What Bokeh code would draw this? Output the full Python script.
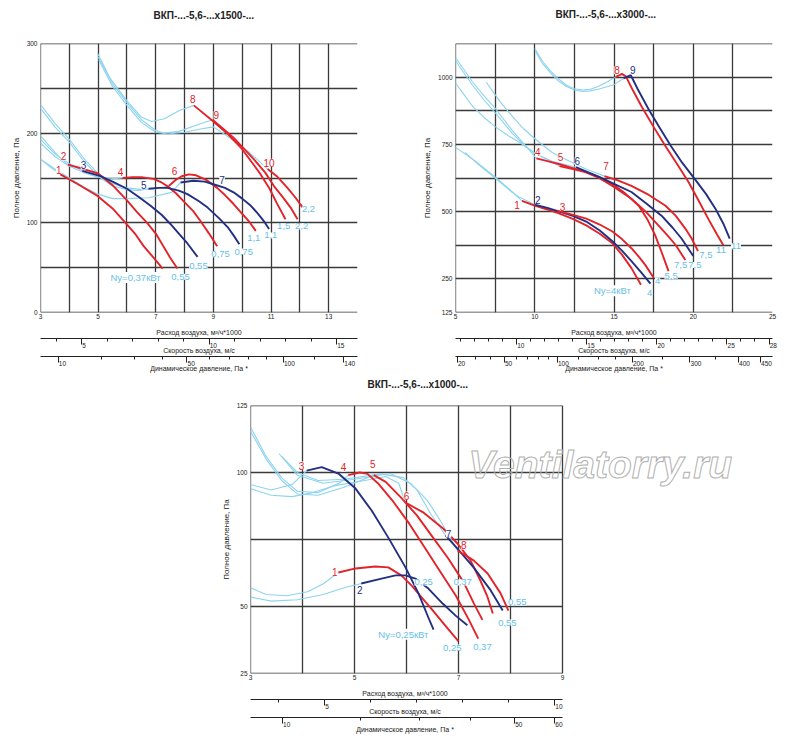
import math

from bokeh.core.properties import value
from bokeh.embed import file_html
from bokeh.layouts import column, row
from bokeh.models import (ColumnDataSource, CustomJSTickFormatter, FixedTicker,
                          Label, LabelSet, LinearAxis, Range1d, Title)
from bokeh.plotting import figure
from bokeh.resources import INLINE

RED = "#e2232a"
NAVY = "#232f82"
SKY = "#8dd3ef"
SKY_TEXT = "#66bfe7"
GRID = "#3a3a3a"
INK = "#222222"
FONT = "Liberation Sans"

K = 0.885  # air flow, 1000 m3/h, that gives 1 m/s of air velocity

# ---------------- ВКП-...х1500 ----------------
# working parts (flow 1000 m3/h, total pressure Pa), curves 1..10
work_1500 = [
    [(3.69, 154), (4.3, 143), (4.98, 130), (5.5, 116), (5.95, 100), (6.3, 87), (6.58, 74), (6.9, 62), (7.24, 49)],
    [(3.95, 165), (4.5, 160), (5.0, 155), (5.5, 142), (6.0, 125), (6.35, 112), (6.7, 100), (7.0, 88), (7.3, 72), (7.5, 61), (7.75, 49)],
    [(4.45, 158), (5.08, 152), (5.5, 146), (6.0, 138), (6.4, 129), (6.82, 119), (7.2, 109), (7.5, 99), (7.8, 88), (8.1, 77), (8.45, 62)],
    [(5.85, 150), (6.2, 151), (6.5, 151), (6.92, 149), (7.2, 145), (7.4, 141), (7.7, 133), (7.97, 124), (8.3, 113), (8.55, 102), (8.85, 88), (9.13, 74)],
    [(6.75, 138), (7.1, 139), (7.4, 139), (7.8, 136), (8.1, 132), (8.5, 124), (8.8, 117), (9.2, 105), (9.5, 95), (9.7, 86), (9.9, 76)],
    [(7.45, 141), (7.7, 148), (7.9, 152), (8.15, 154), (8.4, 153), (8.75, 148), (9.13, 139), (9.4, 131), (9.7, 121), (10.0, 110), (10.25, 101), (10.47, 91)],
    [(7.86, 145), (8.3, 147), (8.7, 146), (9.0, 143), (9.4, 139), (9.7, 134), (10.0, 127), (10.3, 119), (10.55, 110), (10.75, 102), (10.93, 93)],
    [(8.32, 231), (9.0, 213), (9.5, 199), (9.95, 184), (10.3, 169), (10.64, 154), (10.95, 138), (11.2, 122), (11.5, 104)],
    [(8.97, 215), (9.7, 195), (10.4, 171), (10.8, 156), (11.1, 141), (11.4, 129), (11.68, 117), (11.92, 104)],
    [(10.88, 160), (11.2, 152), (11.57, 139), (11.85, 128), (12.1, 117)],
]
work_color_1500 = "rrnrnrnrrr"
# unstable (light blue) parts
tail_1500 = [
    [(3.0, 171), (3.35, 162), (3.69, 154)],
    [(3.0, 197), (3.3, 186), (3.6, 175), (3.95, 165)],
    [(3.0, 193), (3.5, 177), (4.0, 166), (4.45, 158)],
    [(3.0, 189), (3.5, 174), (4.0, 163), (4.5, 156), (5.0, 151), (5.4, 149), (5.85, 150)],
    [(3.0, 228), (3.5, 207), (4.0, 190), (4.5, 169), (5.0, 152), (5.5, 141), (6.0, 137), (6.4, 136), (6.75, 138)],
    [(3.0, 232), (3.5, 211), (4.0, 193), (4.5, 172), (5.0, 155), (5.5, 144), (6.0, 139), (6.5, 137), (7.0, 138), (7.45, 141)],
    [(3.0, 171), (3.5, 160), (4.0, 150), (4.5, 140), (5.0, 132), (5.5, 127), (6.0, 127), (6.75, 128), (7.55, 134), (7.86, 145)],
    [(4.98, 289), (5.4, 262), (6.0, 236), (6.5, 218), (6.85, 213), (7.3, 216), (7.8, 225), (8.32, 231)],
    [(5.0, 285), (5.5, 255), (6.0, 234), (6.5, 215), (7.0, 203), (7.3, 200), (7.8, 202), (8.5, 210), (8.97, 215)],
    [(5.02, 282), (5.5, 252), (6.0, 231), (6.5, 212), (7.0, 201), (7.4, 199), (8.0, 201), (8.6, 205), (9.0, 207), (9.6, 194), (10.2, 180), (10.88, 160)],
]
num_1500 = ["1", "2", "3", "4", "5", "6", "7", "8", "9", "10"]
num_x_1500 = [3.63, 3.8, 4.49, 5.78, 6.58, 7.65, 9.3, 8.28, 9.1, 10.93]
num_y_1500 = [159, 174, 164, 157, 142, 158, 148, 238, 220, 167]
kw_1500 = ["Ny=0,37кВт", "0,55", "0,55", "0,75", "0,75", "1,1", "1,1", "1,5", "2,2", "2,2"]
kw_x_1500 = [6.3, 7.86, 8.48, 9.25, 10.05, 10.4, 10.99, 11.44, 12.06, 12.3]
kw_y_1500 = [39, 40, 52, 65, 68, 83, 86, 96, 96, 115]

# ---------------- ВКП-...х3000 ----------------
work_3000 = [
    [(9.19, 540), (10.0, 522), (10.8, 508), (11.56, 493), (12.4, 473), (13.25, 449), (14.1, 418), (14.9, 382), (15.5, 340), (16.1, 290), (16.7, 228)],
    [(10.0, 526), (10.8, 514), (11.56, 500), (12.4, 484), (13.25, 463), (14.1, 430), (14.9, 390), (15.5, 355), (16.1, 316), (16.7, 275), (17.3, 232)],
    [(11.4, 504), (12.3, 490), (13.25, 474), (14.1, 452), (14.9, 426), (15.5, 398), (16.1, 364), (16.6, 330), (16.97, 302), (17.5, 254)],
    [(10.1, 698), (10.8, 688), (11.56, 676), (12.4, 662), (13.25, 647), (14.1, 627), (14.9, 603), (15.7, 568), (16.56, 522), (17.1, 472), (17.6, 412), (18.0, 350), (18.44, 279)],
    [(11.56, 669), (12.4, 658), (13.19, 647), (14.06, 625), (15.0, 592), (16.1, 548), (17.0, 500), (17.8, 449), (18.4, 410), (18.9, 375), (19.5, 320)],
    [(12.6, 665), (13.3, 648), (14.06, 629), (15.0, 603), (16.1, 573), (17.0, 532), (18.0, 485), (18.7, 440), (19.25, 401), (20.0, 335)],
    [(14.4, 632), (15.2, 617), (16.1, 596), (17.2, 562), (18.25, 522), (18.9, 484), (19.5, 437), (19.9, 400), (20.3, 353)],
    [(15.1, 1000), (15.5, 1012), (15.75, 1003), (16.2, 950), (16.75, 890), (17.5, 815), (18.25, 743), (19.0, 675), (19.7, 610), (20.3, 545), (20.94, 474), (21.5, 415), (21.9, 375)],
    [(15.6, 995), (16.06, 1007), (16.5, 955), (17.2, 879), (17.9, 810), (18.6, 743), (19.3, 682), (20.1, 621), (20.8, 566), (21.4, 511), (21.9, 455), (22.3, 400)],
]
work_color_3000 = "rnrrrnrrn"
tail_3000 = [
    [(5.0, 739), (6.2, 690), (7.5, 629), (8.5, 578), (9.19, 540)],
    [(5.6, 720), (6.5, 672), (7.5, 625), (8.5, 575), (9.06, 553), (10.0, 526)],
    [(5.0, 1073), (5.5, 1030), (6.1, 980), (6.8, 930), (7.5, 885), (8.6, 800), (9.5, 740), (10.1, 698)],
    [(5.0, 1062), (5.5, 1018), (6.1, 968), (6.8, 915), (7.5, 868), (8.6, 790), (9.3, 748), (10.06, 715), (11.0, 688), (11.56, 669)],
    [(5.0, 978), (5.5, 938), (6.1, 890), (6.8, 850), (7.5, 816), (8.3, 783), (9.06, 757), (10.06, 713), (11.1, 687), (12.6, 665)],
    [(6.94, 981), (7.8, 910), (8.6, 853), (9.3, 808), (10.06, 768), (11.1, 720), (12.2, 687), (13.3, 657), (14.4, 632)],
    [(10.0, 1106), (10.5, 1058), (11.0, 1022), (11.5, 993), (12.0, 970), (12.5, 957), (13.0, 952), (13.5, 955), (14.0, 965), (14.5, 980), (15.1, 1000)],
    [(10.05, 1094), (10.5, 1050), (11.0, 1015), (11.5, 985), (12.0, 965), (12.5, 952), (13.0, 947), (13.5, 949), (14.0, 955), (14.5, 963), (15.0, 972), (15.6, 995)],
]
num_3000 = ["1", "2", "3", "4", "5", "6", "7", "8", "9"]
num_x_3000 = [8.88, 10.19, 11.75, 10.19, 11.63, 12.69, 14.5, 15.19, 16.19]
num_y_3000 = [526, 544, 518, 720, 702, 687, 669, 1026, 1026]
num_color_3000 = "rnrrrnrrn"
kw_3000 = ["Ny=4кВт", "4", "4", "5,5", "7,5", "7,5", "7,5", "11", "11"]
kw_x_3000 = [14.9, 17.25, 17.75, 18.6, 19.2, 20.1, 20.8, 21.75, 22.7]
kw_y_3000 = [206, 199, 243, 261, 302, 302, 338, 357, 371]

# ---------------- ВКП-...х1000 ----------------
work_1000 = [
    [(4.69, 62.7), (5.02, 64.2), (5.4, 64.9), (5.65, 64.6), (5.9, 61.6), (6.1, 57.8), (6.29, 53.4), (6.46, 49.6), (6.71, 43.7), (7.0, 37)],
    [(5.13, 58.6), (5.52, 60.4), (5.79, 61.6), (5.98, 61.6), (6.17, 60.4), (6.42, 56.7), (6.7, 51), (6.95, 46.5), (7.17, 43)],
    [(4.08, 100.7), (4.37, 102), (4.69, 99.6), (5.02, 94), (5.33, 85.8), (5.65, 75.7), (5.98, 64.6), (6.23, 54.9), (6.42, 45.9), (6.52, 41.4)],
    [(4.88, 99), (5.1, 100), (5.25, 99.5), (5.45, 96), (5.75, 89), (6.05, 81), (6.35, 72), (6.65, 63), (6.95, 54), (7.2, 45), (7.38, 38)],
    [(5.37, 99), (5.6, 96.5), (5.9, 90.5), (6.2, 84), (6.5, 76), (6.8, 68), (7.1, 59), (7.3, 51), (7.46, 45)],
    [(5.98, 88.8), (6.33, 85), (6.71, 79), (6.98, 73.5), (7.23, 67.2), (7.42, 59.7), (7.55, 54), (7.66, 47.4)],
    [(6.75, 76.5), (6.98, 71.6), (7.29, 64.6), (7.62, 56), (7.85, 48.5)],
    [(6.98, 70.9), (7.29, 67.2), (7.56, 62.3), (7.81, 54.9), (7.96, 48.5)],
]
work_color_1000 = "rnnrrrnr"
tail_1000 = [
    [(3.0, 57), (3.3, 54.5), (3.7, 54), (4.1, 55.5), (4.4, 58.5), (4.69, 62.7)],
    [(3.0, 53.5), (3.4, 52), (3.9, 52.5), (4.4, 54.5), (4.8, 57), (5.13, 58.6)],
    [(3.0, 95.5), (3.4, 93.5), (3.8, 95.5), (4.08, 100.7)],
    [(3.0, 117), (3.3, 106), (3.6, 98), (3.9, 93), (4.3, 92.5), (4.7, 96), (4.88, 99)],
    [(3.0, 115.5), (3.3, 105), (3.6, 97), (3.9, 92), (4.3, 91.5), (4.8, 94.5), (5.37, 99)],
    [(3.0, 94), (3.4, 91.5), (3.8, 91), (4.2, 92.5), (4.6, 95), (5.2, 97), (5.6, 98.5), (5.85, 96), (5.98, 88.8)],
    [(3.6, 106), (3.9, 100), (4.3, 97), (4.8, 97.5), (5.5, 99.5), (5.94, 98.1), (6.21, 93.3), (6.46, 84.7), (6.75, 76.5)],
    [(3.55, 107), (3.9, 99), (4.4, 96), (5.0, 97.5), (5.69, 99.6), (6.08, 95.9), (6.4, 89.6), (6.65, 82.1), (6.98, 70.9)],
]
num_1000 = ["1", "2", "3", "4", "5", "6", "7", "8"]
num_x_1000 = [4.62, 5.1, 3.98, 4.79, 5.35, 6.0, 6.81, 7.1]
num_y_1000 = [63, 56.3, 102.6, 101.9, 103, 91.4, 77.2, 72.8]
num_color_1000 = "rnrrrrnr"
kw_1000 = ["0,25", "0,37", "0,55", "0,55", "Ny=0,25кВт", "0,25", "0,37"]
kw_x_1000 = [6.33, 7.08, 8.13, 7.94, 5.94, 6.88, 7.46]
kw_y_1000 = [59, 59, 51.5, 44, 39.6, 34.7, 35]


def pd_pos(pd):
    # flow at which the dynamic pressure 0.6*v^2 equals pd
    return K * math.sqrt(pd / 0.6)


PAD = '"\\u2007".repeat(s.length) + "\\u2009" + s'
VEL_JS = "const s = String(Math.round(tick)); return " + PAD + ";"
PD_JS = "const s = String(Math.round(0.6*Math.pow(tick/%g, 2))); return %s;" % (K, PAD)
EPS = 1e-4
LABEL_PX = 7


def chart(title, size, borders, xr, yr, x_lab, x_grid, y_lab, y_grid,
          vel_lab, vel_minor, pd_lab, pd_minor, title_off, title_gap, spacer, x_end=None):
    left, right, top, bottom = borders
    # x_end: the frame runs further right than the chart (room for the watermark),
    # the box is then drawn by the outermost grid lines only
    x_hi = xr[1] if x_end is None else x_end
    frame_w = size[0] - left - right
    # axis titles are centred on the whole frame: pad them so they sit under the chart
    extra = (x_hi - xr[1]) / (x_hi - xr[0] + EPS) * frame_w
    tail = "\u2003" * round(extra / LABEL_PX)

    p = figure(width=size[0], height=size[1],
               x_range=Range1d(xr[0] - EPS, x_hi), y_range=Range1d(yr[0] - EPS, yr[1] + EPS),
               min_border_left=left, min_border_right=right,
               min_border_top=top, min_border_bottom=bottom,
               title=title, output_backend="svg", toolbar_location=None)
    p.title.text_font = FONT
    p.title.text_font_size = "10px"
    p.title.text_font_style = "bold"
    p.title.text_color = INK
    p.title.align = "left"
    p.title.offset = title_off
    p.title.standoff = title_gap
    p.add_layout(Title(text=" ", text_font_size="10px", standoff=spacer), "above")

    p.xaxis.ticker = FixedTicker(ticks=x_lab)
    p.yaxis.ticker = FixedTicker(ticks=y_lab)
    p.xgrid.ticker = FixedTicker(ticks=x_grid)
    p.ygrid.ticker = FixedTicker(ticks=y_grid)
    p.grid.grid_line_color = GRID
    p.grid.grid_line_width = 1.3
    p.ygrid.cross_bounds = xr
    p.outline_line_color = None

    p.xaxis.axis_label = "Расход воздуха, м³/ч*1000" + tail
    p.yaxis.axis_label = "Полное давление, Па"
    p.xaxis.bounds = xr
    p.axis.axis_line_color = None
    p.axis.major_tick_line_color = None
    p.axis.minor_tick_line_color = None
    p.axis.major_tick_out = 0
    p.axis.major_tick_in = 0
    p.axis.major_label_text_font = FONT
    p.axis.major_label_text_font_size = "6.5px"
    p.axis.major_label_text_color = INK
    p.axis.axis_label_text_font = FONT
    p.axis.axis_label_text_font_style = "normal"
    p.axis.axis_label_text_color = INK
    p.xaxis.axis_label_text_font_size = "%dpx" % LABEL_PX
    p.yaxis.axis_label_text_font_size = "8px"
    p.xaxis.major_label_standoff = 1
    p.xaxis.axis_label_standoff = 7
    p.yaxis.major_label_standoff = 3
    p.yaxis.axis_label_standoff = 3

    p.extra_x_ranges = {"vel": Range1d((xr[0] - EPS) / K, x_hi / K)}
    vel = LinearAxis(x_range_name="vel", axis_label="Скорость воздуха, м/с" + tail,
                     bounds=(xr[0] / K, xr[1] / K),
                     ticker=FixedTicker(ticks=vel_lab, minor_ticks=vel_minor),
                     formatter=CustomJSTickFormatter(code=VEL_JS))
    dyn = LinearAxis(axis_label="Динамическое давление, Па *" + tail, bounds=xr,
                     ticker=FixedTicker(ticks=[pd_pos(v) for v in pd_lab],
                                        minor_ticks=[pd_pos(v) for v in pd_minor]),
                     formatter=CustomJSTickFormatter(code=PD_JS))
    for ax in (vel, dyn):
        ax.axis_line_color = INK
        ax.major_tick_line_color = INK
        ax.minor_tick_line_color = INK
        ax.major_tick_out = 6
        ax.major_tick_in = 0
        ax.minor_tick_out = 3
        ax.minor_tick_in = 0
        ax.major_label_standoff = -3
        ax.axis_label_standoff = -5
        ax.major_label_text_font = FONT
        ax.major_label_text_font_size = "6.5px"
        ax.major_label_text_color = INK
        ax.axis_label_text_font = FONT
        ax.axis_label_text_font_size = "%dpx" % LABEL_PX
        ax.axis_label_text_font_style = "normal"
        ax.axis_label_text_color = INK
        p.add_layout(ax, "below")
    return p


def draw(p, tails, works, colors, nums, nx, ny, ncol, kws, kx, ky):
    p.multi_line("xs", "ys", source=ColumnDataSource(dict(
        xs=[[q for q, _ in c] for c in tails], ys=[[v for _, v in c] for c in tails])),
        line_color=SKY, line_width=1.1, line_join="round")
    p.multi_line("xs", "ys", source=ColumnDataSource(dict(
        xs=[[q for q, _ in c] for c in works], ys=[[v for _, v in c] for c in works],
        color=[RED if c == "r" else NAVY for c in colors])),
        line_color="color", line_width=1.9, line_join="round")
    p.add_layout(LabelSet(x="x", y="y", text="text", text_color="color",
                          source=ColumnDataSource(dict(x=nx, y=ny, text=nums,
                                                       color=[RED if c == "r" else NAVY for c in ncol])),
                          text_font=value(FONT), text_font_size="10px",
                          text_align="center", text_baseline="middle",
                          background_fill_color="white"))
    p.add_layout(LabelSet(x="x", y="y", text="text",
                          source=ColumnDataSource(dict(x=kx, y=ky, text=kws)),
                          text_color=SKY_TEXT, text_font=value(FONT), text_font_size="9.5px",
                          text_align="center", text_baseline="middle",
                          background_fill_color="white"))


p1 = chart("ВКП-...-5,6-...х1500-...", (400, 378), (40, 43, 42, 66), (3, 14), (0, 300),
           [3, 5, 7, 9, 11, 13], list(range(3, 15)), [0, 100, 200, 300], list(range(0, 301, 50)),
           [5, 10, 15], list(range(4, 16)), [10, 50, 100, 140], [20, 30, 40, 60, 70, 80, 90, 120],
           113, 9, 5)
draw(p1, tail_1500, work_1500, work_color_1500, num_1500, num_x_1500, num_y_1500,
     work_color_1500, kw_1500, kw_x_1500, kw_y_1500)

p2 = chart("ВКП-...-5,6-...х3000-...", (400, 378), (55, 28, 42, 63), (5, 25), (125, 1125),
           [5, 10, 15, 20, 25], [5 + 2.5 * i for i in range(9)], [125, 250, 500, 750, 1000],
           list(range(125, 1126, 125)),
           [10, 15, 20, 25, 28], list(range(6, 29)), [20, 50, 100, 200, 300, 400, 450],
           [30, 40, 60, 70, 80, 90, 125, 150, 175, 250, 350],
           100, 12, 5)
draw(p2, tail_3000, work_3000, work_color_3000, num_3000, num_x_3000, num_y_3000,
     num_color_3000, kw_3000, kw_x_3000, kw_y_3000)

p3 = chart("ВКП-...-5,6-...х1000-...", (800, 361), (250, 10, 27, 66), (3, 9), (25, 125),
           [3, 5, 7, 9], list(range(3, 10)), [25, 50, 100, 125], [25, 50, 75, 100, 125],
           [5, 10], list(range(4, 11)), [10, 50, 60], [20, 30, 40],
           117, -3, 4, x_end=3 + 540 / 52)
draw(p3, tail_1000, work_1000, work_color_1000, num_1000, num_x_1000, num_y_1000,
     num_color_1000, kw_1000, kw_x_1000, kw_y_1000)

# site watermark, placed in screen units from the frame's lower left corner
p3.add_layout(Label(x=218, y=209, x_units="screen", y_units="screen", text="Ventilatorry.ru",
                    text_font=FONT, text_font_size="39px",
                    text_font_style="bold italic", text_color="#ffffff00",
                    text_outline_color="#b0b0b0", text_baseline="middle"))

page = column(row(p1, p2), p3)
open("out.html", "w").write(file_html(page, INLINE))
